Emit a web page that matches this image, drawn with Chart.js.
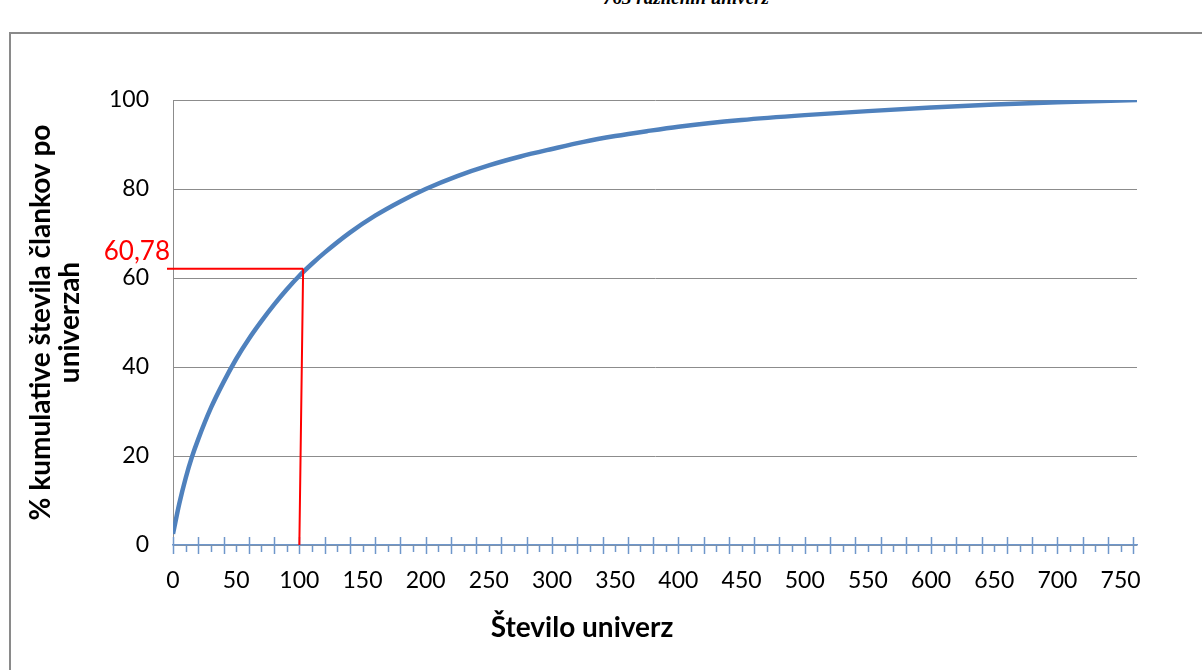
<!DOCTYPE html>
<html>
<head>
<meta charset="utf-8">
<script src="https://cdn.jsdelivr.net/npm/chart.js@4"></script>
<style>
  body { margin: 0; background: #fff; overflow: hidden; }
  #wrap { position: relative; width: 1202px; height: 670px; }
  #frame { position: absolute; left: 9px; top: 32px; width: 1300px; height: 700px; border: 2px solid #8a8a8a; }
  #cut { position: absolute; top: -13px; left: 0; width: 1372px; text-align: center;
         font: italic bold 19px "Liberation Serif", serif; color: #000; }
  canvas { position: absolute; left: 0; top: 0; }
</style>
</head>
<body>
<div id="wrap">
  <div id="cut">763 različnih univerz</div>
  <div id="frame"></div>
  <canvas id="chart" width="1202" height="670"></canvas>
</div>
<script>
// cumulative share of articles
const universities = [0, 5, 10, 15, 20, 30, 40, 50, 60, 70, 80, 90, 100, 110, 120, 140, 160, 180, 200,
  225, 250, 275, 300, 325, 350, 375, 400, 450, 500, 550, 600, 650, 700, 763];
const cumulativePct = [2.5, 9.3, 15, 19.8, 23.8, 30.8, 36.6, 41.8, 46.3, 50.3, 54, 57.4, 60.5, 63.2, 65.7, 70.2, 74, 77.2, 80,
  82.9, 85.3, 87.3, 89, 90.6, 91.9, 93, 94, 95.5, 96.6, 97.5, 98.3, 99, 99.5, 100];
const yTicks = [0, 20, 40, 60, 80, 100];
const xTitle = "Število univerz";
const markLabel = "60,78";
const markFrom = 100;       // red line foot on the x axis
const markTo = [103, 62.1]; // where the red lines meet the curve

const font = "Lato";
const axisBlue = "#6f97cb";

const points = universities.map((u, i) => ({ x: u, y: cumulativePct[i] }));

// tick marks on the x axis (long every 20, short between), x title and the red marker
const extras = {
  id: "extras",
  afterDraw(chart) {
    const c = chart.ctx;
    const xs = chart.scales.x, ys = chart.scales.y;
    const base = ys.getPixelForValue(0);
    c.save();
    c.strokeStyle = axisBlue;
    c.lineWidth = 1.5;
    xs.ticks.forEach(t => {
      const px = Math.round(xs.getPixelForValue(t.value)) + 0.5;
      c.beginPath();
      if (t.value % 20 === 0) { c.moveTo(px, base - 8); c.lineTo(px, base + 9); }
      else { c.moveTo(px, base + 1); c.lineTo(px, base + 7); }
      c.stroke();
    });

    c.fillStyle = "#000";
    c.font = "bold 28px " + font;
    c.textAlign = "center";
    c.textBaseline = "middle";
    c.fillText(xTitle, 582, 628);

    const tx = xs.getPixelForValue(markTo[0]), ty = ys.getPixelForValue(markTo[1]);
    c.strokeStyle = "#ff0000";
    c.lineWidth = 2;
    c.beginPath();
    c.moveTo(xs.getPixelForValue(markFrom), base);
    c.lineTo(tx, ty);
    c.moveTo(chart.chartArea.left - 6, ty);
    c.lineTo(tx, ty);
    c.stroke();
    c.fillStyle = "#ff0000";
    c.font = "26px " + font;
    c.textAlign = "right";
    c.textBaseline = "alphabetic";
    c.fillText(markLabel, chart.chartArea.left - 3, ty - 9);
    c.restore();
  }
};

new Chart(document.getElementById("chart"), {
  type: "line",
  data: {
    datasets: [{
      data: points,
      borderColor: "#4f81bd",
      borderWidth: 4.5,
      pointRadius: 0,
      cubicInterpolationMode: "monotone",
      fill: false
    }]
  },
  options: {
    responsive: false,
    animation: false,
    layout: { padding: { left: 24, top: 100, right: 65, bottom: 22 } },
    plugins: { legend: { display: false }, tooltip: { enabled: false } },
    scales: {
      x: {
        type: "linear",
        min: 0,
        max: 763,
        afterFit(s) { s.height = 670 - 22 - 545; },
        border: { color: axisBlue, width: 1.5 },
        grid: { drawOnChartArea: false, drawTicks: false },
        ticks: {
          stepSize: 10,
          autoSkip: false,
          includeBounds: false,
          maxRotation: 0,
          padding: 22,
          color: "#000",
          font: { family: font, size: 23 },
          callback: v => (v % 50 === 0 ? String(v) : "")
        }
      },
      y: {
        min: 0,
        max: 100,
        afterFit(s) { s.width = 173 - 24; },
        afterBuildTicks(s) { s.ticks = yTicks.map(v => ({ value: v })); },
        border: { color: "#8c8c8c", width: 1 },
        grid: { color: "#8c8c8c", lineWidth: 1, drawTicks: false },
        ticks: {
          padding: 24,
          color: "#000",
          font: { family: font, size: 23 }
        },
        title: {
          display: true,
          text: ["% kumulative števila člankov po", "univerzah"],
          color: "#000",
          font: { family: font, size: 28, weight: "bold", lineHeight: 1.05 },
          padding: { top: 2, bottom: 0 }
        }
      }
    }
  },
  plugins: [extras]
});
</script>
</body>
</html>
